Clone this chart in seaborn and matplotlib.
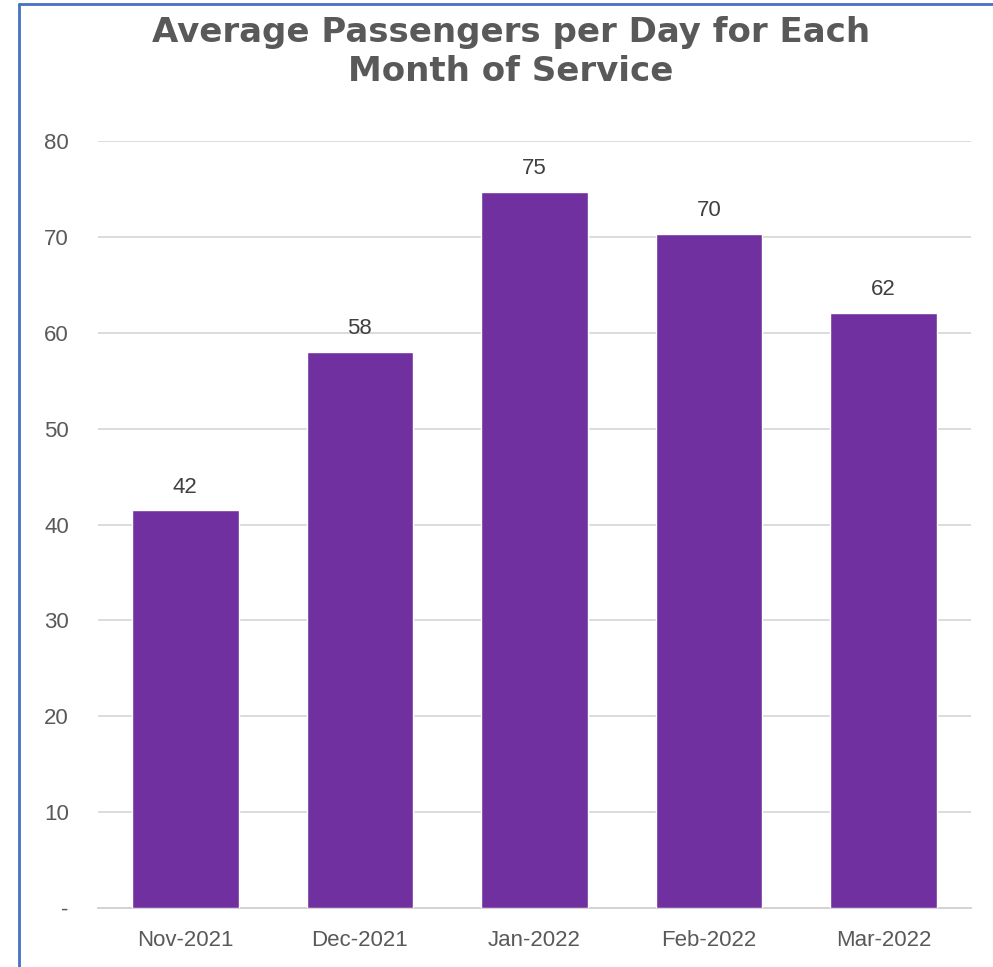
import pandas as pd
import seaborn as sns
import matplotlib.pyplot as plt
from matplotlib.lines import Line2D

months = ['Nov-2021', 'Dec-2021', 'Jan-2022', 'Feb-2022', 'Mar-2022']
passengers = [41.5, 58.0, 74.7, 70.3, 62.1]
y_ticks = [0, 10, 20, 30, 40, 50, 60, 70, 80]
y_tick_labels = ['-', '10', '20', '30', '40', '50', '60', '70', '80']

df = pd.DataFrame({'Month': months, 'Passengers': passengers})

sns.set_style('white')
plt.rcParams['font.family'] = ['Liberation Sans', 'DejaVu Sans']

fig = plt.figure(figsize=(9.93, 9.67), dpi=100)
ax = fig.add_axes([98 / 993, 1 - 908 / 967, 873 / 993, 767 / 967])

sns.barplot(data=df, x='Month', y='Passengers', color='#7030A0',
            saturation=1, width=0.61, ax=ax, zorder=3)

ax.set_xlim(-0.5, 4.5)
ax.set_ylim(0, 80)
ax.set_yticks(y_ticks)
ax.set_yticklabels(y_tick_labels)
ax.grid(axis='y', color='#d9d9d9', linewidth=1.3, zorder=0)
ax.set_axisbelow(True)
for side in ['top', 'right', 'left']:
    ax.spines[side].set_visible(False)
ax.spines['bottom'].set_color('#d0d0d0')
ax.spines['bottom'].set_linewidth(1.3)
ax.tick_params(axis='both', length=0, labelsize=16, labelcolor='#595959')
ax.tick_params(axis='y', pad=21)
ax.tick_params(axis='x', pad=16)
ax.set_xlabel('')
ax.set_ylabel('')

for container in ax.containers:
    ax.bar_label(container, fmt='%.0f', padding=9, fontsize=16, color='#404040')

fig.text(511 / 993, 1 - 52 / 967, 'Average Passengers per Day for Each\nMonth of Service',
         ha='center', va='center', fontsize=24.5, fontweight='bold', color='#595959',
         family=['DejaVu Sans'], linespacing=1.2)

# blue frame seen on left and top edges
fig.add_artist(Line2D([19 / 993, 19 / 993], [0, 1 - 4 / 967], color='#4472C4',
                      linewidth=2, transform=fig.transFigure))
fig.add_artist(Line2D([19 / 993, 1], [1 - 4 / 967, 1 - 4 / 967], color='#4472C4',
                      linewidth=2, transform=fig.transFigure))

fig.savefig('out.png', dpi=100)
